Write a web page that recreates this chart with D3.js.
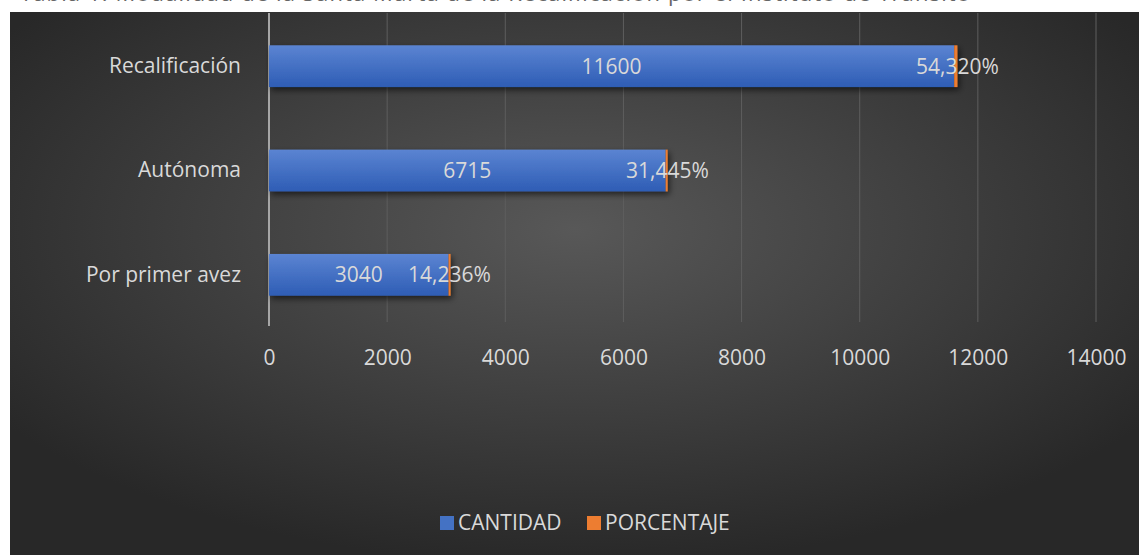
<!DOCTYPE html>
<html lang="es">
<head>
    <meta charset="UTF-8">
    <title>Modalidad</title>
    <script src="https://cdn.jsdelivr.net/npm/d3@7"></script>
    <style>
        body { margin: 0; background: #fff; overflow: hidden; }
        text { font-family: "Open Sans", "Noto Sans", sans-serif; }
    </style>
</head>
<body>
<script>
    // datos
    const categories = ['Recalificación', 'Autónoma', 'Por primer avez']
    const cantidad = [11600, 6715, 3040]
    const porcentaje = [54.320, 31.445, 14.236]
    const ticks = [0, 2000, 4000, 6000, 8000, 10000, 12000, 14000]
    const seriesNames = ['CANTIDAD', 'PORCENTAJE']
    const colors = ['#4472c4', '#ed7d31']

    const [width, height] = [1139, 555]
    const panel = {x: 10, y: 12}
    const fs = 21
    const x = d3.scaleLinear().domain([0, 14000]).range([269, 1096])
    const y = d3.scaleBand().domain(categories).range([14, 327]).paddingInner(0.6).paddingOuter(0.3)

    const svg = d3.select('body').append('svg')
        .attr('width', width)
        .attr('height', height)

    const defs = svg.append('defs')
    const bg = defs.append('radialGradient').attr('id', 'bg')
        .attr('cx', '50%').attr('cy', '40%').attr('r', '62%')
    bg.append('stop').attr('offset', '0%').attr('stop-color', '#585858')
    bg.append('stop').attr('offset', '100%').attr('stop-color', '#282828')
    const bar = defs.append('linearGradient').attr('id', 'bar')
        .attr('x1', 0).attr('y1', 0).attr('x2', 0).attr('y2', 1)
    bar.append('stop').attr('offset', '0%').attr('stop-color', '#5b84d2')
    bar.append('stop').attr('offset', '100%').attr('stop-color', '#2e5db5')
    const shadow = defs.append('filter').attr('id', 'shadow')
        .attr('x', '-5%').attr('y', '-20%').attr('width', '115%').attr('height', '160%')
    shadow.append('feDropShadow').attr('dx', 2).attr('dy', 3).attr('stdDeviation', 3)
        .attr('flood-color', '#000').attr('flood-opacity', 0.6)

    // titulo (recortado arriba, como en la imagen)
    svg.append('text')
        .attr('x', 20).attr('y', 0.5)
        .attr('font-size', 22).attr('fill', '#666')
        .attr('textLength', 950).attr('lengthAdjust', 'spacing')
        .text('Tabla 1: Modalidad de la Santa Marta de la Recalificación por el Instituto de Tránsito')

    svg.append('rect')
        .attr('x', panel.x).attr('y', panel.y)
        .attr('width', width - panel.x).attr('height', height - panel.y)
        .attr('fill', 'url(#bg)')

    // lineas de cuadricula
    svg.selectAll('line.grid').data(ticks.slice(1))
        .enter().append('line').attr('class', 'grid')
        .attr('x1', d => x(d)).attr('x2', d => x(d))
        .attr('y1', 13).attr('y2', 322)
        .attr('stroke', '#5e5e5e').attr('stroke-width', 1)

    svg.append('line')
        .attr('x1', x(0)).attr('x2', x(0))
        .attr('y1', 13).attr('y2', 326)
        .attr('stroke', '#a6a6a6').attr('stroke-width', 2)

    // barras
    const g = svg.append('g').attr('filter', 'url(#shadow)')
    g.selectAll('rect.cant').data(categories)
        .enter().append('rect').attr('class', 'cant')
        .attr('x', x(0))
        .attr('y', d => y(d))
        .attr('width', (d, i) => x(cantidad[i]) - x(0))
        .attr('height', y.bandwidth())
        .attr('fill', 'url(#bar)')
    g.selectAll('rect.pct').data(categories)
        .enter().append('rect').attr('class', 'pct')
        .attr('x', (d, i) => x(cantidad[i]))
        .attr('y', d => y(d))
        .attr('width', (d, i) => Math.max(2, x(cantidad[i] + porcentaje[i]) - x(cantidad[i])))
        .attr('height', y.bandwidth())
        .attr('fill', colors[1])

    // etiquetas de datos
    svg.selectAll('text.vcant').data(categories)
        .enter().append('text').attr('class', 'vcant')
        .attr('x', (d, i) => (x(0) + x(cantidad[i])) / 2)
        .attr('y', d => y(d) + y.bandwidth() / 2)
        .attr('dy', '0.35em')
        .attr('text-anchor', 'middle')
        .attr('font-size', fs).attr('fill', '#d9d9d9')
        .text((d, i) => cantidad[i])
    svg.selectAll('text.vpct').data(categories)
        .enter().append('text').attr('class', 'vpct')
        .attr('x', (d, i) => x(cantidad[i] + porcentaje[i]))
        .attr('y', d => y(d) + y.bandwidth() / 2)
        .attr('dy', '0.35em')
        .attr('text-anchor', 'middle')
        .attr('font-size', fs).attr('fill', '#d9d9d9')
        .text((d, i) => porcentaje[i].toFixed(3).replace('.', ',') + '%')

    // eje x
    const xAxis = svg.append('g')
        .attr('transform', 'translate(0,358)')
        .call(d3.axisBottom(x).tickValues(ticks).tickSize(0).tickPadding(0).tickFormat(d => d))
    xAxis.select('.domain').remove()
    xAxis.selectAll('text')
        .attr('font-size', fs).attr('fill', '#d9d9d9')
        .attr('dy', '0.35em')
        .style('font-family', '"Open Sans", sans-serif')

    // eje y
    const yAxis = svg.append('g')
        .attr('transform', 'translate(241,0)')
        .call(d3.axisLeft(y).tickSize(0).tickPadding(0))
    yAxis.select('.domain').remove()
    yAxis.selectAll('text')
        .attr('font-size', fs).attr('fill', '#d9d9d9')
        .style('font-family', '"Open Sans", sans-serif')

    // leyenda
    const legendX = [440, 587]
    const legend = svg.selectAll('g.leg').data(seriesNames)
        .enter().append('g').attr('class', 'leg')
        .attr('transform', (d, i) => `translate(${legendX[i]},516)`)
    legend.append('rect')
        .attr('width', 14).attr('height', 14)
        .attr('fill', (d, i) => colors[i])
    legend.append('text')
        .attr('x', 18).attr('y', 7).attr('dy', '0.35em')
        .attr('font-size', fs).attr('fill', '#d9d9d9')
        .text(d => d)
</script>
</body>
</html>
